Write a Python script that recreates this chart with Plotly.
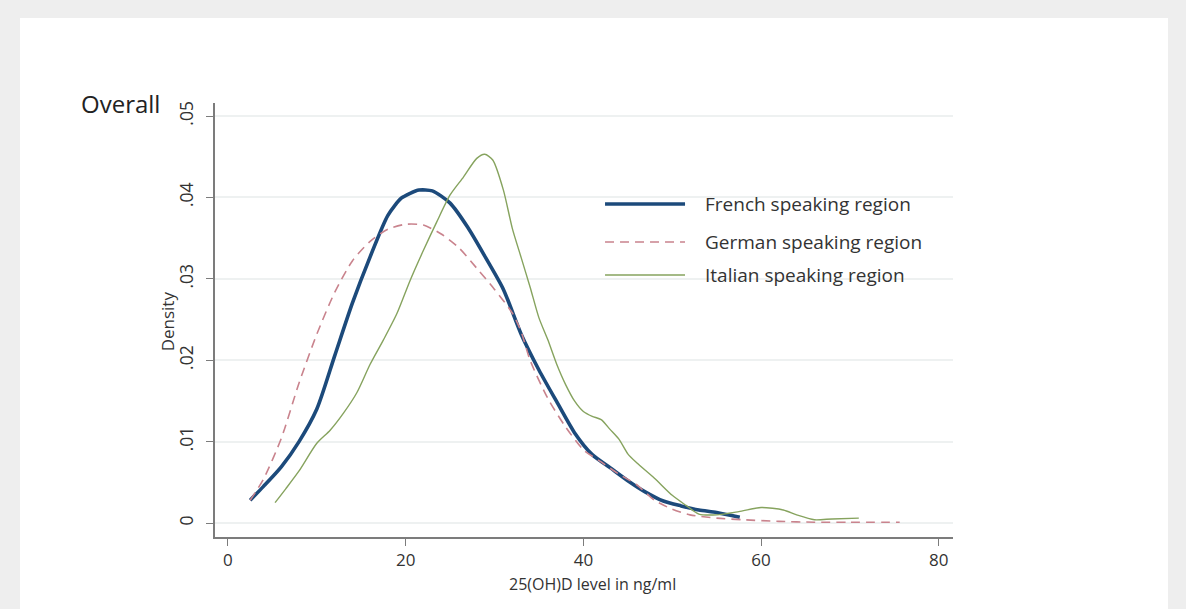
import plotly.graph_objects as go

# Kernel density estimates of 25(OH)D by language region
french_x = [2.5, 4, 6, 8, 10, 12, 14, 16, 18, 19.5, 20.5, 21.5, 23, 25, 27, 29, 31, 33,
            35, 37, 39, 41, 43, 45, 47, 49, 51, 53, 55, 57.6]
french_y = [0.0028, 0.0045, 0.0069, 0.0100, 0.0140, 0.0205, 0.0270, 0.0327, 0.0378,
            0.0399, 0.0405, 0.0409, 0.0408, 0.0393, 0.0363, 0.0326, 0.0287, 0.0232,
            0.0188, 0.0149, 0.0111, 0.0084, 0.0068, 0.0052, 0.0038, 0.0027, 0.0021,
            0.0016, 0.0013, 0.0007]

german_x = [2.5, 4, 6, 8, 10, 12, 14, 16, 18, 20, 22, 24, 26, 28, 30, 32, 33, 34, 36,
            38, 40, 42, 44, 46, 48, 50, 52, 55, 58, 62, 66, 70, 75.6]
german_y = [0.0028, 0.0054, 0.0104, 0.0172, 0.0232, 0.0283, 0.0322, 0.0346, 0.0361,
            0.0367, 0.0366, 0.0355, 0.0338, 0.0313, 0.0287, 0.0258, 0.0235, 0.0200,
            0.0153, 0.0118, 0.0090, 0.0075, 0.0060, 0.0047, 0.0028, 0.0017, 0.0010,
            0.0006, 0.0004, 0.0002, 0.0001, 0.0001, 0.0001]

italian_x = [5.3, 6.5, 8, 10, 11.5, 13, 14.5, 16, 17.5, 19, 20.5, 22, 23.5, 25, 26.5, 28,
             28.9, 29.8, 31, 32, 33, 34, 35, 36, 37, 38, 39, 40, 41, 42, 43, 44, 45, 46,
             48, 50, 51.5, 53, 55, 57.5, 60, 62.5, 64, 66, 68, 71]
italian_y = [0.0025, 0.0042, 0.0064, 0.0098, 0.0114, 0.0135, 0.0160, 0.0195, 0.0225,
             0.0257, 0.0298, 0.0335, 0.0370, 0.0403, 0.0425, 0.0448, 0.0453, 0.0446,
             0.0409, 0.0362, 0.0326, 0.0290, 0.0252, 0.0225, 0.0195, 0.0170, 0.0150,
             0.0137, 0.0131, 0.0127, 0.0115, 0.0103, 0.0085, 0.0074, 0.0055, 0.0034,
             0.0022, 0.0011, 0.0010, 0.0014, 0.0019, 0.0016, 0.0010, 0.0004, 0.0005,
             0.0006]

x_ticks = [0, 20, 40, 60, 80]
y_ticks = [0, 0.01, 0.02, 0.03, 0.04, 0.05]
y_tick_text = ["0", ".01", ".02", ".03", ".04", ".05"]

series = [
    ("French speaking region", french_x, french_y, dict(color="#1c4a7b", width=3.6)),
    ("German speaking region", german_x, german_y, dict(color="#c9838d", width=1.6, dash="9px,6px")),
    ("Italian speaking region", italian_x, italian_y, dict(color="#86a35e", width=1.4)),
]

FONT = "Open Sans"
TXT = "#333333"
AXIS = "#7c7c7c"

fig = go.Figure()
for name, xs, ys, line in series:
    fig.add_trace(go.Scatter(x=xs, y=ys, mode="lines", name=name,
                             line=dict(shape="spline", smoothing=0.7, **line),
                             showlegend=False))

# panel: white card on a light grey frame
shapes = [dict(type="rect", xref="paper", yref="paper", x0=-0.2642, x1=1.2913,
               y0=-0.17, y1=1.1959, fillcolor="white", line=dict(width=0), layer="below")]
annotations = []

# legend keys drawn as short line samples with labels
legend_y = [0.7673, 0.6797, 0.6037]
for (name, _, _, line), ly in zip(series, legend_y):
    shapes.append(dict(type="line", xref="paper", yref="paper", x0=0.5285, x1=0.6369,
                       y0=ly, y1=ly, line=line))
    annotations.append(dict(text=name, xref="paper", yref="paper", x=0.6612, y=ly,
                            xanchor="left", yanchor="middle", showarrow=False,
                            font=dict(family=FONT, size=19, color=TXT)))

annotations += [
    dict(text="Overall", xref="paper", yref="paper", x=-0.1843, y=0.9977,
         xanchor="left", yanchor="middle", showarrow=False,
         font=dict(family=FONT, size=24, color="#222222")),
    dict(text="25(OH)D level in ng/ml", xref="paper", yref="paper", x=0.511, y=-0.108,
         xanchor="center", yanchor="middle", showarrow=False,
         font=dict(family=FONT, size=16, color=TXT)),
    dict(text="Density", xref="paper", yref="paper", x=-0.065, y=0.497, textangle=-90,
         xanchor="center", yanchor="middle", showarrow=False,
         font=dict(family=FONT, size=17, color=TXT)),
]

fig.update_layout(
    width=1186, height=609,
    margin=dict(l=215, r=233, t=103, b=72),
    paper_bgcolor="#eeeeee", plot_bgcolor="white",
    shapes=shapes, annotations=annotations,
    font=dict(family=FONT, color=TXT),
)
fig.update_xaxes(range=[-1.46, 81.6], tickvals=x_ticks, showgrid=False, zeroline=False,
                 showline=True, linecolor=AXIS, linewidth=1.5, ticks="outside",
                 ticklen=7, tickcolor=AXIS, tickwidth=1,
                 tickfont=dict(family=FONT, size=17, color=TXT))
fig.update_yaxes(range=[-0.00172, 0.0516], tickvals=y_ticks, ticktext=y_tick_text,
                 tickangle=-90, showgrid=True, gridcolor="#eef1f1", gridwidth=1.5,
                 zeroline=False, showline=True, linecolor=AXIS, linewidth=1.5,
                 ticks="outside", ticklen=7, tickcolor=AXIS, tickwidth=1,
                 ticklabelstandoff=6,
                 tickfont=dict(family=FONT, size=17.5, color=TXT))

fig.write_html("out.html")
